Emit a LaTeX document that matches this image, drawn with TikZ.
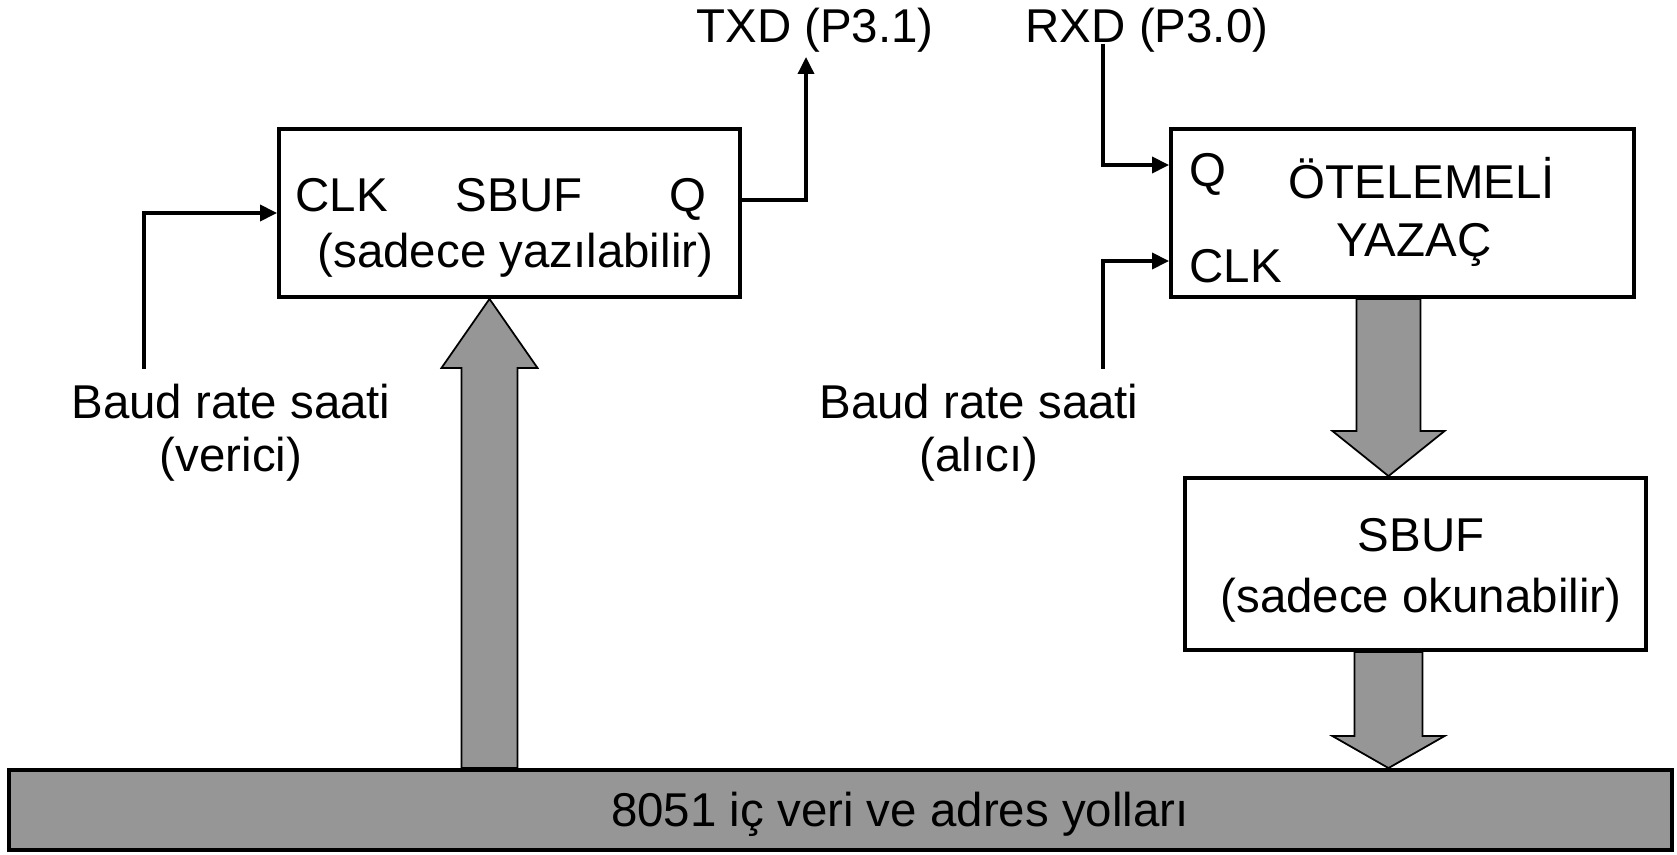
\documentclass[tikz,border=0pt]{standalone}
\usepackage{fontspec}
\setmainfont{Liberation Sans}
\usepackage{tikz}
\usetikzlibrary{arrows.meta,calc}
\definecolor{busgray}{HTML}{969696}

\begin{document}
\begin{tikzpicture}[
    box/.style={draw, line width=1.1pt, fill=white, inner sep=0pt},
    txt/.style={inner sep=0pt, font=\fontsize{13.5}{16}\selectfont},
    sig/.style={-{Triangle[length=0.17cm,width=0.16cm]}, line width=1pt},
    bigarr/.style={draw, fill=busgray, line width=0.5pt, line join=miter},
]
\useasboundingbox (0,0) rectangle (16.77,8.54);

% ── Internal bus ─────────────────────────────────────
\node[box, fill=busgray, minimum width=16.63cm, minimum height=0.80cm] (bus)
    at (8.405,0.44) {};
\node[txt, anchor=base] (bustxt) at (9.0,0.28) {8051 iç veri ve adres yolları};

% ── Transmitter: SBUF (write only) ───────────────────
\node[box, minimum width=4.61cm, minimum height=1.68cm] (txbuf) at (5.095,6.41) {};
\node[txt, anchor=base west] (txclk)  at (2.95,6.42) {CLK};
\node[txt, anchor=base west] (txsbuf) at (4.55,6.42) {SBUF};
\node[txt, anchor=base west] (txq)    at (6.69,6.42) {Q};
\node[txt, anchor=base west] (txnote) at (3.17,5.86) {(sadece yazılabilir)};

% ── Receiver: shift register ─────────────────────────
\node[box, minimum width=4.63cm, minimum height=1.68cm] (shreg) at (14.025,6.41) {};
\node[txt, anchor=base west] (rxq)   at (11.89,6.67) {Q};
\node[txt, anchor=base west] (rxclk) at (11.89,5.71) {CLK};
\node[txt, anchor=base] (shname)  at (14.22,6.55) {ÖTELEMELİ};
\node[txt, anchor=base] (shname2) at (14.14,5.97) {YAZAÇ};

% ── Receiver: SBUF (read only) ───────────────────────
\node[box, minimum width=4.61cm, minimum height=1.72cm] (rxbuf) at (14.155,2.90) {};
\node[txt, anchor=base] (rxsbuf) at (14.21,3.03) {SBUF};
\node[txt, anchor=base] (rxnote) at (14.21,2.42) {(sadece okunabilir)};

% ── Pin and clock labels ─────────────────────────────
\node[txt, anchor=base] (txd) at (8.15,8.11) {TXD (P3.1)};
\node[txt, anchor=base] (rxd) at (11.47,8.11) {RXD (P3.0)};
\node[txt, anchor=base] (txbaud)  at (2.31,4.35) {Baud rate saati};
\node[txt, anchor=base] (txbaud2) at (2.31,3.82) {(verici)};
\node[txt, anchor=base] (rxbaud)  at (9.79,4.35) {Baud rate saati};
\node[txt, anchor=base] (rxbaud2) at (9.79,3.82) {(alıcı)};

% ── Signal lines ─────────────────────────────────────
\coordinate (txclkin) at (1.44,4.85);
\coordinate (txdout)  at (8.06,7.97);
\coordinate (rxdin)   at (11.03,8.10);
\coordinate (rxclkin) at (11.03,4.85);

\draw[sig] (txclkin) |- (txbuf.west);
\draw[sig] ([yshift=0.13cm]txbuf.east) -| (txdout);
\draw[sig] (rxdin) |- ([yshift=0.48cm]shreg.west);
\draw[sig] (rxclkin) |- ([yshift=-0.48cm]shreg.west);

% ── Data paths (block arrows) ────────────────────────
\coordinate (uptip)  at ([xshift=-0.2cm]txbuf.south);
\coordinate (upfoot) at (uptip |- bus.north);
\draw[bigarr] (uptip) -- ++(0.48,-0.69) -- ++(-0.2,0) -- ([xshift=0.28cm]upfoot)
    -- ([xshift=-0.28cm]upfoot) |- ($(uptip)+(-0.48,-0.69)$) -- cycle;

\coordinate (dntip1)  at ([xshift=-0.27cm]rxbuf.north);
\coordinate (dnroot1) at (dntip1 |- shreg.south);
\draw[bigarr] (dntip1) -- ++(0.56,0.45) -- ++(-0.24,0) -- ([xshift=0.32cm]dnroot1)
    -- ([xshift=-0.32cm]dnroot1) |- ($(dntip1)+(-0.56,0.45)$) -- cycle;

\coordinate (dntip2)  at (dntip1 |- bus.north);
\coordinate (dnroot2) at (dntip2 |- rxbuf.south);
\draw[bigarr] (dntip2) -- ++(0.56,0.32) -- ++(-0.22,0) -- ([xshift=0.34cm]dnroot2)
    -- ([xshift=-0.34cm]dnroot2) |- ($(dntip2)+(-0.56,0.32)$) -- cycle;

\end{tikzpicture}
\end{document}
